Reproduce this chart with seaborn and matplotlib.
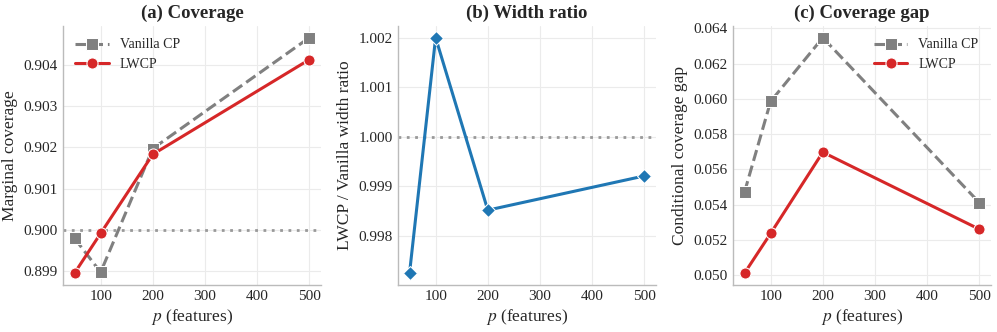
import matplotlib
matplotlib.use("Agg")
import matplotlib.pyplot as plt
import seaborn as sns
import pandas as pd

p_features = [50, 100, 200, 500]
cov_vanilla = [0.89980, 0.89898, 0.90197, 0.90465]
cov_lwcp = [0.89896, 0.89992, 0.90183, 0.90412]
width_ratio = [0.99725, 1.00200, 0.99852, 0.99921]
gap_vanilla = [0.05471, 0.05985, 0.06347, 0.05411]
gap_lwcp = [0.05011, 0.05236, 0.05697, 0.05260]

sns.set_theme(style="whitegrid")
plt.rcParams['font.family'] = ['Liberation Serif', 'DejaVu Serif']
plt.rcParams['mathtext.fontset'] = 'stix'

GRAY = "#808080"
RED = "#d62728"
BLUE = "#1f77b4"

fig = plt.figure(figsize=(9.97, 3.32), dpi=100)
lefts = [0.063, 0.399, 0.735]
axes = [fig.add_axes([l, 0.142, 0.259, 0.78]) for l in lefts]

def style(ax, title, ylabel):
    ax.set_title(title, fontsize=13.5, fontweight='bold', pad=6)
    ax.set_xlabel(r"$p$ (features)", fontsize=12.5, labelpad=3)
    ax.set_ylabel(ylabel, fontsize=12.5, labelpad=4)
    ax.tick_params(labelsize=11, pad=3.5, length=0)
    ax.grid(True, color="#ebebeb", linewidth=0.8)
    for s in ['top', 'right']:
        ax.spines[s].set_visible(False)
    for s in ['left', 'bottom']:
        ax.spines[s].set_color("#bbbbbb")
        ax.spines[s].set_linewidth(1.0)
    ax.set_xticks([100, 200, 300, 400, 500])

# (a)
ax = axes[0]
dfa = pd.DataFrame({"p": p_features, "v": cov_vanilla, "l": cov_lwcp})
ax.axhline(0.900, color="#999999", linestyle=(0, (1, 2)), linewidth=2)
sns.lineplot(data=dfa, x="p", y="v", ax=ax, color=GRAY, linestyle="--", linewidth=2.2,
             marker="s", markersize=8, markeredgecolor="white", label="Vanilla CP")
sns.lineplot(data=dfa, x="p", y="l", ax=ax, color=RED, linewidth=2.2,
             marker="o", markersize=8, markeredgecolor="white", label="LWCP")
style(ax, "(a) Coverage", "Marginal coverage")
ax.set_yticks([0.899, 0.900, 0.901, 0.902, 0.903, 0.904])
ax.set_yticklabels([f"{t:.3f}" for t in ax.get_yticks()])
ax.legend(loc="upper left", frameon=False, fontsize=10, handlelength=2.4)

# (b)
ax = axes[1]
dfb = pd.DataFrame({"p": p_features, "r": width_ratio})
ax.axhline(1.000, color="#999999", linestyle=(0, (1, 2)), linewidth=2)
sns.lineplot(data=dfb, x="p", y="r", ax=ax, color=BLUE, linewidth=2.2,
             marker="D", markersize=7.5, markeredgecolor="white")
style(ax, "(b) Width ratio", "LWCP / Vanilla width ratio")
ax.set_yticks([0.998, 0.999, 1.000, 1.001, 1.002])
ax.set_yticklabels([f"{t:.3f}" for t in ax.get_yticks()])

# (c)
ax = axes[2]
dfc = pd.DataFrame({"p": p_features, "v": gap_vanilla, "l": gap_lwcp})
sns.lineplot(data=dfc, x="p", y="v", ax=ax, color=GRAY, linestyle="--", linewidth=2.2,
             marker="s", markersize=8, markeredgecolor="white", label="Vanilla CP")
sns.lineplot(data=dfc, x="p", y="l", ax=ax, color=RED, linewidth=2.2,
             marker="o", markersize=8, markeredgecolor="white", label="LWCP")
style(ax, "(c) Coverage gap", "Conditional coverage gap")
ax.set_yticks([0.050, 0.052, 0.054, 0.056, 0.058, 0.060, 0.062, 0.064])
ax.set_yticklabels([f"{t:.3f}" for t in ax.get_yticks()])
ax.legend(loc="upper right", frameon=False, fontsize=10, handlelength=2.4)

fig.savefig("out.png", dpi=100)
